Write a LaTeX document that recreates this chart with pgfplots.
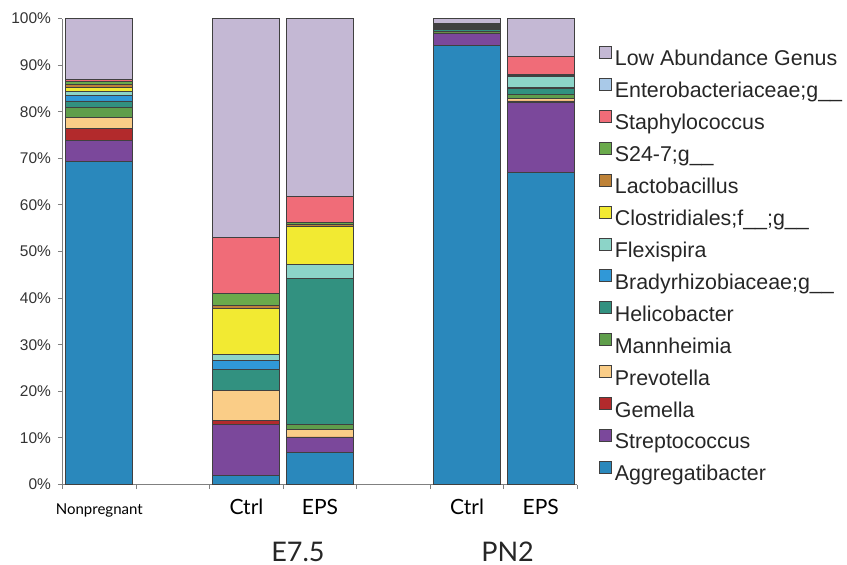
\documentclass[border=0pt]{standalone}
\usepackage{fontspec}
\setmainfont{Liberation Sans}
\newfontfamily\gill{Lato}
\usepackage{pgfplots}
\pgfplotsset{compat=1.18}
\definecolor{cLow}{RGB}{196,184,212}
\definecolor{cEnt}{RGB}{169,201,232}
\definecolor{cSta}{RGB}{240,108,120}
\definecolor{cS24}{RGB}{106,170,75}
\definecolor{cLac}{RGB}{190,130,55}
\definecolor{cClo}{RGB}{242,234,50}
\definecolor{cFle}{RGB}{140,212,200}
\definecolor{cBra}{RGB}{48,152,215}
\definecolor{cHel}{RGB}{50,145,128}
\definecolor{cMan}{RGB}{95,158,75}
\definecolor{cPre}{RGB}{250,205,135}
\definecolor{cGem}{RGB}{178,42,44}
\definecolor{cStr}{RGB}{123,72,155}
\definecolor{cAgg}{RGB}{42,136,188}
\begin{document}
\begin{tikzpicture}
\begin{axis}[
  scale only axis,
  width=257.5pt, height=233pt,
  xmin=-0.5, xmax=6.5, ymin=0, ymax=100,
  clip=false,
  ybar stacked, bar width=0.91,
  axis lines=left,
  axis line style={-, black!50, line width=0.6pt},
  tick align=outside,
  xtick={0,2,3,5,6},
  xticklabels={{\fontsize{7.5}{9}\selectfont Nonpregnant},Ctrl,EPS,Ctrl,EPS},
  xticklabel style={font=\gill\fontsize{10.5}{12}\selectfont, anchor=base, yshift=-12.75pt, inner sep=0pt},
  major x tick style={draw=none},
  minor xtick={-0.5,0.5,...,6.5},
  minor tick length=2.25pt,
  minor x tick style={black!50, line width=0.5pt},
  ytick={0,10,...,100},
  major tick length=2.25pt,
  major y tick style={black!50, line width=0.5pt},
  yticklabel={\pgfmathprintnumber{\tick}\%},
  /pgf/number format/assume math mode=true,
  yticklabel style={font=\fontsize{7.75}{9}\selectfont, color=black!80},
  every axis plot/.append style={draw=black!75, line width=0.45pt},
  reverse legend,
  legend cell align=left,
  legend image code/.code={\draw[#1] (0pt,0.85pt) rectangle (6pt,6.85pt);},
  legend style={draw=none, fill=none, at={(1.0417,0.9414)}, anchor=north west,
    inner sep=0pt, outer sep=0pt, row sep=3.9pt, column sep=1.5pt,
    font=\fontsize{10.7}{12.8}\selectfont, text=black!85,
    nodes={inner sep=0pt, text height=7.8pt, text depth=2.2pt}},
]
% x: 0 Nonpregnant, 2 E7.5 Ctrl, 3 E7.5 EPS, 5 PN2 Ctrl, 6 PN2 EPS
\addplot[fill=cAgg] coordinates {(0,69.3) (2,1.9) (3,6.8) (5,94.3) (6,67.0)};
\addlegendentry{Aggregatibacter}
\addplot[fill=cStr] coordinates {(0,4.6) (2,10.9) (3,3.2) (5,2.5) (6,15.0)};
\addlegendentry{Streptococcus}
\addplot[fill=cGem] coordinates {(0,2.5) (2,1.0) (3,0.2) (5,0.1) (6,0.3)};
\addlegendentry{Gemella}
\addplot[fill=cPre] coordinates {(0,2.3) (2,6.4) (3,1.6) (5,0.0) (6,0.5)};
\addlegendentry{Prevotella}
\addplot[fill=cMan] coordinates {(0,2.2) (2,0.0) (3,1.1) (5,0.4) (6,0.9)};
\addlegendentry{Mannheimia}
\addplot[fill=cHel] coordinates {(0,1.4) (2,4.5) (3,31.3) (5,0.3) (6,1.3)};
\addlegendentry{Helicobacter}
\addplot[fill=cBra] coordinates {(0,1.1) (2,1.9) (3,0.0) (5,0.2) (6,0.3)};
\addlegendentry{Bradyrhizobiaceae;g\_\_}
\addplot[fill=cFle] coordinates {(0,1.0) (2,1.4) (3,3.1) (5,0.1) (6,2.2)};
\addlegendentry{Flexispira}
\addplot[fill=cClo] coordinates {(0,0.9) (2,9.8) (3,8.0) (5,0.1) (6,0.1)};
\addlegendentry{Clostridiales;f\_\_;g\_\_}
\addplot[fill=cLac] coordinates {(0,0.6) (2,0.7) (3,0.6) (5,0.3) (6,0.2)};
\addlegendentry{Lactobacillus}
\addplot[fill=cS24] coordinates {(0,0.5) (2,2.4) (3,0.3) (5,0.3) (6,0.1)};
\addlegendentry{S24-7;g\_\_}
\addplot[fill=cSta] coordinates {(0,0.5) (2,12.2) (3,5.7) (5,0.2) (6,4.0)};
\addlegendentry{Staphylococcus}
\addplot[fill=cEnt] coordinates {(0,0.0) (2,0.0) (3,0.0) (5,0.1) (6,0.0)};
\addlegendentry{Enterobacteriaceae;g\_\_}
\addplot[fill=cLow] coordinates {(0,13.1) (2,46.9) (3,38.1) (5,1.1) (6,8.1)};
\addlegendentry{Low Abundance Genus}
\node[anchor=base, inner sep=0pt, font=\gill\fontsize{13.5}{16}\selectfont, text=black!85] at (axis cs:2.7,0) [yshift=-38.25pt] {E7.5};
\node[anchor=base, inner sep=0pt, font=\gill\fontsize{13.5}{16}\selectfont, text=black!85] at (axis cs:5.55,0) [yshift=-38.25pt] {PN2};
\end{axis}
\pgfresetboundingbox
\useasboundingbox (-31.25pt,-39.75pt) rectangle (392.25pt,242.25pt);
\end{tikzpicture}
\end{document}
